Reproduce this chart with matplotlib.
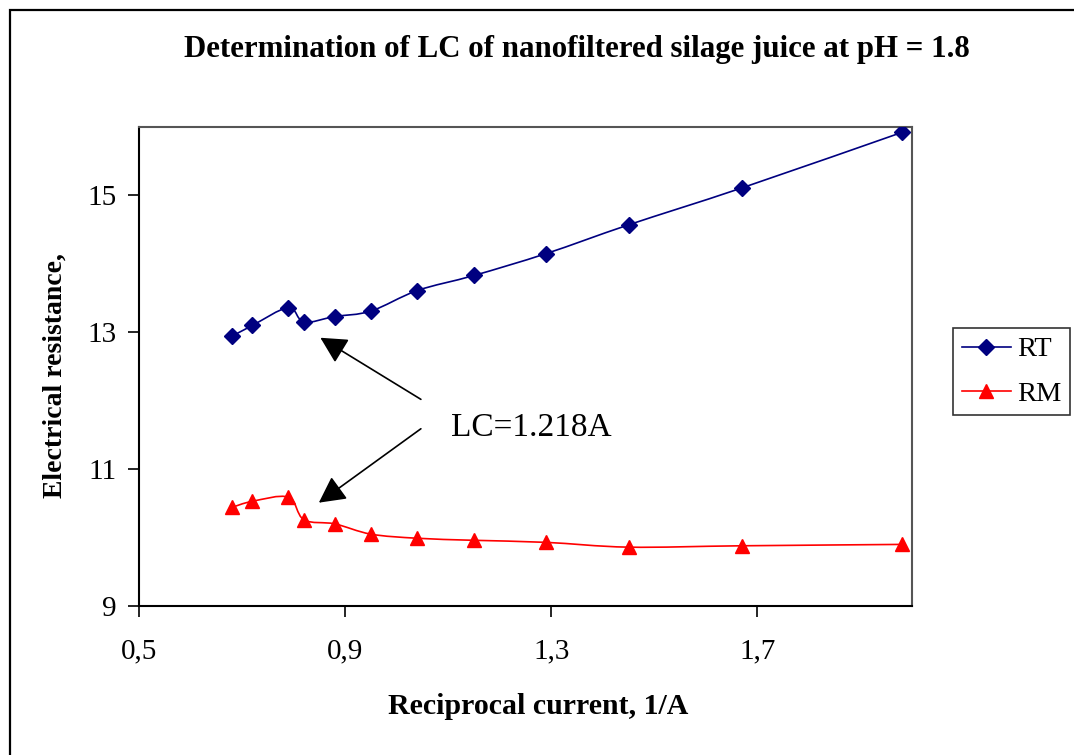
import numpy as np
import matplotlib
matplotlib.use("Agg")
import matplotlib.pyplot as plt
from matplotlib.path import Path
from matplotlib.patches import PathPatch, Rectangle
from matplotlib.lines import Line2D

# Reciprocal current (1/A) and resistances
recip_current = [0.68, 0.72, 0.79, 0.82, 0.88, 0.95, 1.04, 1.15, 1.29, 1.45, 1.67, 1.98]
rt_values = [12.94, 13.10, 13.36, 13.15, 13.23, 13.31, 13.61, 13.83, 14.15, 14.57, 15.11, 15.92]
rm_values = [10.44, 10.53, 10.59, 10.26, 10.20, 10.05, 9.99, 9.96, 9.93, 9.86, 9.88, 9.90]

x_ticks = [0.5, 0.9, 1.3, 1.7]
x_tick_labels = ["0,5", "0,9", "1,3", "1,7"]
y_ticks = [9, 11, 13, 15]
lc_label = "LC=1.218A"

plt.rcParams["font.family"] = ["Liberation Serif", "DejaVu Serif"]

W, H = 1074, 755
fig = plt.figure(figsize=(W / 100, H / 100), dpi=100)
fig.patch.set_facecolor("white")

# outer chart frame
fig.patches.append(Rectangle((10 / W, -0.2), 1.3, 1.2 - 10 / H, transform=fig.transFigure,
                             fill=False, edgecolor="black", linewidth=1.6))

left, right, top, bottom = 139, 912, 127, 606
ax = fig.add_axes([left / W, 1 - bottom / H, (right - left) / W, (bottom - top) / H])


def smooth_path(xs, ys):
    """Cardinal (Catmull-Rom) Bezier path through the points, like spreadsheet smoothing."""
    pts = np.column_stack([xs, ys]).astype(float)
    n = len(pts)
    verts = [pts[0]]
    codes = [Path.MOVETO]
    for i in range(n - 1):
        p0 = pts[i - 1] if i > 0 else pts[i]
        p1 = pts[i]
        p2 = pts[i + 1]
        p3 = pts[i + 2] if i + 2 < n else pts[i + 1]
        c1 = p1 + (p2 - p0) / 6.0
        c2 = p2 - (p3 - p1) / 6.0
        verts += [c1, c2, p2]
        codes += [Path.CURVE4] * 3
    return Path(verts, codes)


rt_color = "#000080"
rm_color = "#FF0000"
diamond_size = 8.5
triangle_size = 10

ax.add_patch(PathPatch(smooth_path(recip_current, rt_values), fill=False,
                       edgecolor=rt_color, linewidth=1.2, zorder=2))
ax.add_patch(PathPatch(smooth_path(recip_current, rm_values), fill=False,
                       edgecolor=rm_color, linewidth=1.2, zorder=2))
ax.plot(recip_current, rt_values, linestyle="none", marker="D", markersize=diamond_size,
        color=rt_color, zorder=3)
ax.plot(recip_current, rm_values, linestyle="none", marker="^", markersize=triangle_size,
        color=rm_color, zorder=3)

ax.set_xlim(0.5, 2.0)
ax.set_ylim(9, 16)
ax.set_xticks(x_ticks)
ax.set_xticklabels(x_tick_labels)
ax.set_yticks(y_ticks)
ax.tick_params(axis="both", direction="out", length=8, width=1.2, labelsize=21,
               colors="black", pad=15)
ax.tick_params(axis="y", pad=8)
for s in ["left", "bottom"]:
    ax.spines[s].set_linewidth(1.5)
    ax.spines[s].set_color("black")
for s in ["top", "right"]:
    ax.spines[s].set_linewidth(1.5)
    ax.spines[s].set_color("#555555")

# annotation arrows pointing at the limiting-current point
arrow_kw = dict(arrowstyle="-|>,head_length=0.65,head_width=0.34", color="black",
                lw=1.2, shrinkA=0, shrinkB=0, mutation_scale=25)
ax.annotate("", xy=(0.852, 12.92), xytext=(1.047, 12.02), arrowprops=arrow_kw)
ax.annotate("", xy=(0.849, 10.51), xytext=(1.047, 11.59), arrowprops=arrow_kw)
ax.text(1.105, 11.60, lc_label, fontsize=24, ha="left", va="center")

# axis titles
fig.text(538 / W, 1 - 706 / H, "Reciprocal current, 1/A", fontsize=21.5,
         fontweight="bold", ha="center", va="center")
fig.text(55 / W, 1 - 376 / H, "Electrical resistance,", fontsize=20,
         fontweight="bold", ha="center", va="center", rotation=90)

# chart title, sized to span its width
title = fig.text(577 / W, 1 - 50 / H, "Determination of LC of nanofiltered silage juice at pH = 1.8",
                 fontsize=22, fontweight="bold", ha="center", va="center")
renderer = fig.canvas.get_renderer()
w = title.get_window_extent(renderer).width
title.set_fontsize(22 * 786 / w)

# legend
handles = [Line2D([], [], color=rt_color, marker="D", markersize=diamond_size, linewidth=1.2),
           Line2D([], [], color=rm_color, marker="^", markersize=triangle_size, linewidth=1.2)]
leg = fig.legend(handles, ["RT", "RM"], loc="upper left",
                 bbox_to_anchor=(953 / W, 1 - 328 / H), borderaxespad=0,
                 fontsize=20.5, frameon=True, fancybox=False, handlelength=1.75,
                 handletextpad=0.2, labelspacing=0.65, borderpad=0.3)
leg.get_frame().set_edgecolor("black")
leg.get_frame().set_linewidth(1.2)

fig.savefig("out.png", dpi=100, facecolor="white")
